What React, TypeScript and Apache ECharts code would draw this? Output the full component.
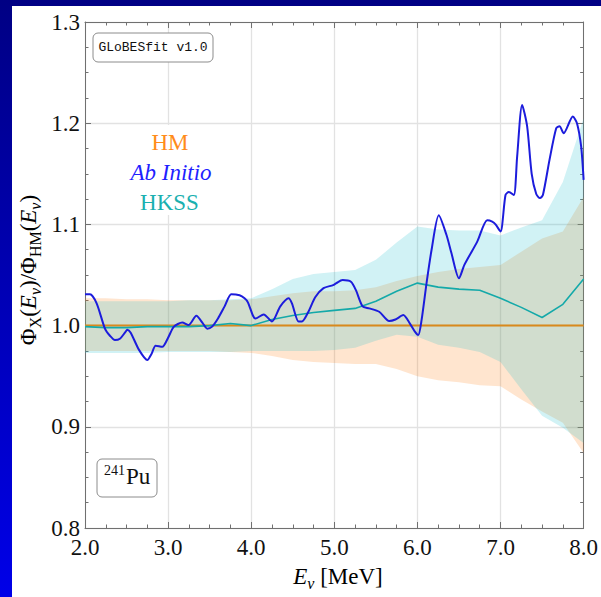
import React, { useEffect, useRef } from "react";
import * as echarts from "echarts";

// ---------- data ----------
const xTickValues = [2, 3, 4, 5, 6, 7, 8];
const yTickValues = [0.8, 0.9, 1.0, 1.1, 1.2, 1.3];

const bandE = [2.0, 2.25, 2.5, 2.75, 3.0, 3.25, 3.5, 3.75, 4.0, 4.25, 4.5, 4.75, 5.0, 5.25, 5.5, 5.75, 6.0, 6.25, 6.5, 6.75, 7.0, 7.25, 7.5, 7.75, 8.0];

const hmUpper = [1.027, 1.027, 1.026, 1.026, 1.025, 1.025, 1.025, 1.025, 1.026, 1.029, 1.032, 1.034, 1.034, 1.035, 1.038, 1.044, 1.049, 1.053, 1.056, 1.058, 1.06, 1.073, 1.086, 1.093, 1.127];
const hmLower = [0.975, 0.975, 0.975, 0.975, 0.975, 0.975, 0.975, 0.974, 0.973, 0.97, 0.966, 0.964, 0.963, 0.962, 0.962, 0.957, 0.95, 0.946, 0.944, 0.941, 0.94, 0.927, 0.915, 0.904, 0.874];
const hmCentral = [1, 1, 1, 1, 1, 1, 1, 1, 1, 1, 1, 1, 1, 1, 1, 1, 1, 1, 1, 1, 1, 1, 1, 1, 1];

const hkssUpper = [1.024, 1.024, 1.024, 1.024, 1.024, 1.025, 1.025, 1.026, 1.027, 1.036, 1.046, 1.051, 1.053, 1.055, 1.065, 1.082, 1.098, 1.095, 1.094, 1.094, 1.089, 1.097, 1.104, 1.142, 1.205];
const hkssLower = [0.973, 0.973, 0.973, 0.973, 0.974, 0.974, 0.974, 0.974, 0.975, 0.975, 0.975, 0.975, 0.976, 0.978, 0.985, 0.991, 0.989, 0.981, 0.978, 0.974, 0.964, 0.937, 0.911, 0.899, 0.884];
const hkssCentral = [0.999, 0.998, 0.998, 0.999, 0.999, 0.999, 1.0, 1.002, 1.0, 1.006, 1.01, 1.013, 1.015, 1.017, 1.024, 1.034, 1.042, 1.038, 1.036, 1.035, 1.027, 1.018, 1.008, 1.021, 1.046];

const abInitioE = [2.0, 2.06, 2.14, 2.24, 2.3, 2.36, 2.42, 2.48, 2.51, 2.55, 2.65, 2.75, 2.8, 2.85, 2.93, 3.0, 3.07, 3.17, 3.245, 3.34, 3.42, 3.47, 3.53, 3.6, 3.68, 3.76, 3.86, 3.92, 3.96, 4.02, 4.05, 4.15, 4.25, 4.35, 4.45, 4.49, 4.57, 4.61, 4.69, 4.77, 4.87, 4.985, 5.02, 5.1, 5.2, 5.26, 5.34, 5.42, 5.54, 5.66, 5.735, 5.83, 5.91, 5.97, 6.01, 6.05, 6.11, 6.17, 6.257, 6.35, 6.41, 6.5, 6.565, 6.72, 6.84, 6.9, 6.94, 7.0, 7.06, 7.1, 7.16, 7.2, 7.26, 7.32, 7.375, 7.43, 7.475, 7.51, 7.59, 7.67, 7.71, 7.76, 7.87, 7.92, 7.97, 8.0];
const abInitioRatio = [1.031, 1.031, 1.022, 0.997, 0.99, 0.9857, 0.987, 0.993, 0.996, 0.993, 0.976, 0.966, 0.972, 0.98, 0.979, 0.988, 0.999, 1.003, 1.0005, 1.0097, 1.002, 0.997, 0.999, 1.007, 1.019, 1.031, 1.03, 1.027, 1.023, 1.01, 1.007, 1.011, 1.004, 1.019, 1.027, 1.022, 1.004, 1.004, 1.014, 1.028, 1.037, 1.04, 1.0417, 1.045, 1.0433, 1.035, 1.019, 1.017, 1.0137, 1.0045, 1.006, 1.0104, 1.002, 0.994, 0.9906, 1.0054, 1.042, 1.0747, 1.109, 1.0895, 1.0714, 1.0467, 1.06, 1.083, 1.104, 1.1027, 1.1, 1.093, 1.129, 1.132, 1.129, 1.167, 1.218, 1.197, 1.15, 1.13, 1.126, 1.129, 1.164, 1.195, 1.197, 1.19, 1.2066, 1.2, 1.177, 1.144];

// ---------- styles ----------
const SERIF = "Liberation Serif";
const MONO = "Liberation Mono";
const AXIS_GRAY = "#707070";
const GRID_GRAY = "#e2e2e2";
const TEXT = "#111111";

function bandSeries(upper: number[], lower: number[], color: string, z: number) {
  return {
    type: "custom",
    coordinateSystem: "cartesian2d",
    xAxisIndex: 0,
    yAxisIndex: 0,
    silent: true,
    z,
    data: [[bandE[0], upper[0]]],
    renderItem: (_params: any, api: any) => {
      const pts: number[][] = [];
      for (let i = 0; i < bandE.length; i++) pts.push(api.coord([bandE[i], upper[i]]));
      for (let i = bandE.length - 1; i >= 0; i--) pts.push(api.coord([bandE[i], lower[i]]));
      return { type: "polygon", shape: { points: pts }, style: { fill: color } };
    },
  };
}

function makeAxis(kind: "x" | "y", main: boolean) {
  const ticks = kind === "x" ? xTickValues : yTickValues;
  return {
    type: "value",
    min: ticks[0],
    max: ticks[ticks.length - 1],
    interval: kind === "x" ? 1 : 0.1,
    position: kind === "x" ? (main ? "bottom" : "top") : main ? "left" : "right",
    axisLine: { show: true, onZero: false, lineStyle: { color: AXIS_GRAY, width: 1 } },
    axisTick: { show: true, inside: true, length: 6, lineStyle: { color: AXIS_GRAY, width: 1 } },
    minorTick: { show: true, splitNumber: 4, length: 3.5, lineStyle: { color: AXIS_GRAY, width: 1 } },
    minorSplitLine: { show: false },
    splitLine: { show: main, lineStyle: { color: GRID_GRAY, width: 1.3 } },
    axisLabel: {
      show: main,
      margin: kind === "x" ? 8 : 5,
      fontFamily: SERIF,
      fontSize: 23,
      color: TEXT,
      formatter: (v: number) => v.toFixed(1),
    },
  };
}

const rich = {
  p: { fontFamily: SERIF, fontSize: 23, lineHeight: 30, color: TEXT },
  i: { fontFamily: SERIF, fontSize: 23, fontStyle: "italic", lineHeight: 30, color: TEXT },
  s: { fontFamily: SERIF, fontSize: 16, lineHeight: 18, verticalAlign: "bottom", color: TEXT },
  si: { fontFamily: SERIF, fontSize: 16, fontStyle: "italic", lineHeight: 18, verticalAlign: "bottom", color: TEXT },
};

function label(x: number, y: number, text: string, size: number, color: string, opts: any = {}) {
  return {
    type: "text",
    z: 101,
    x,
    y,
    style: {
      text,
      fontFamily: opts.family || SERIF,
      fontSize: size,
      fontStyle: opts.italic ? "italic" : "normal",
      fill: color,
      align: opts.align || "center",
      verticalAlign: "middle",
      textAlign: opts.align || "center",
      textVerticalAlign: "middle",
    },
  };
}

export default function App() {
  const ref = useRef<HTMLDivElement>(null);

  useEffect(() => {
    if (!ref.current) return;
    const chart = echarts.init(ref.current, null, { renderer: "svg" });
    const option: any = {
      animation: false,
      backgroundColor: "#ffffff",
      grid: { left: 73, right: 10, top: 16, bottom: 69, containLabel: false },
      xAxis: [makeAxis("x", true), makeAxis("x", false)],
      yAxis: [makeAxis("y", true), makeAxis("y", false)],
      series: [
        bandSeries(hmUpper, hmLower, "rgba(255,127,14,0.2)", 1),
        bandSeries(hkssUpper, hkssLower, "rgba(23,190,207,0.2)", 1),
        {
          type: "line",
          name: "HM",
          data: bandE.map((e, i) => [e, hmCentral[i]]),
          showSymbol: false,
          lineStyle: { color: "#d9891c", width: 2 },
          z: 3,
          silent: true,
        },
        {
          type: "line",
          name: "HKSS",
          data: bandE.map((e, i) => [e, hkssCentral[i]]),
          showSymbol: false,
          lineStyle: { color: "#14a9a9", width: 1.6 },
          z: 4,
          silent: true,
        },
        {
          type: "line",
          name: "Ab Initio",
          data: abInitioE.map((e, i) => [e, abInitioRatio[i]]),
          showSymbol: false,
          smooth: 0.25,
          lineStyle: { color: "#1c1cdc", width: 2 },
          z: 5,
          silent: true,
        },
      ],
      graphic: [
        // GLoBESfit box
        {
          type: "rect",
          z: 100,
          shape: { x: 81, y: 27, width: 120, height: 29, r: 5 },
          style: { fill: "#ffffff", stroke: "#8c8c8c", lineWidth: 1 },
        },
        label(141, 41.5, "GLoBESfit v1.0", 13, TEXT, { family: MONO }),
        // legend background
        {
          type: "rect",
          z: 99,
          shape: { x: 106, y: 119, width: 106, height: 90 },
          style: { fill: "#ffffff" },
        },
        label(158, 136, "HM", 23, "#ff8c1a"),
        label(159, 166.6, "Ab Initio", 23, "#1f1fff", { italic: true }),
        label(157.5, 196.6, "HKSS", 23, "#1ab0b0"),
        // 241Pu box
        {
          type: "rect",
          z: 100,
          shape: { x: 85, y: 453, width: 60, height: 38, r: 5 },
          style: { fill: "#ffffff", stroke: "#8c8c8c", lineWidth: 1 },
        },
        label(92, 464.6, "241", 14, TEXT, { align: "left" }),
        label(114, 470, "Pu", 23, TEXT, { align: "left" }),
        // x-axis title
        {
          type: "text",
          z: 101,
          x: 326,
          y: 570,
          style: {
            text: "{i|E}{si|ν}{p| [MeV]}",
            rich,
            align: "center",
            verticalAlign: "middle",
            textAlign: "center",
            textVerticalAlign: "middle",
          },
        },
        // y-axis title
        {
          type: "text",
          z: 101,
          x: 16,
          y: 264,
          rotation: Math.PI / 2,
          style: {
            text: "{p|Φ}{s|X}{p|(}{i|E}{si|ν}{p|)/Φ}{s|HM}{p|(}{i|E}{si|ν}{p|)}",
            rich,
            align: "center",
            verticalAlign: "middle",
            textAlign: "center",
            textVerticalAlign: "middle",
          },
        },
      ],
    };
    chart.setOption(option);
    return () => chart.dispose();
  }, []);

  return (
    <div
      style={{
        position: "fixed",
        left: 0,
        top: 0,
        width: 601,
        height: 597,
        overflow: "hidden",
        background: "linear-gradient(to bottom, #000084, #0000e8)",
      }}
    >
      <div
        ref={ref}
        style={{ position: "absolute", left: 12, top: 6, width: 589, height: 591, background: "#ffffff" }}
      />
    </div>
  );
}
